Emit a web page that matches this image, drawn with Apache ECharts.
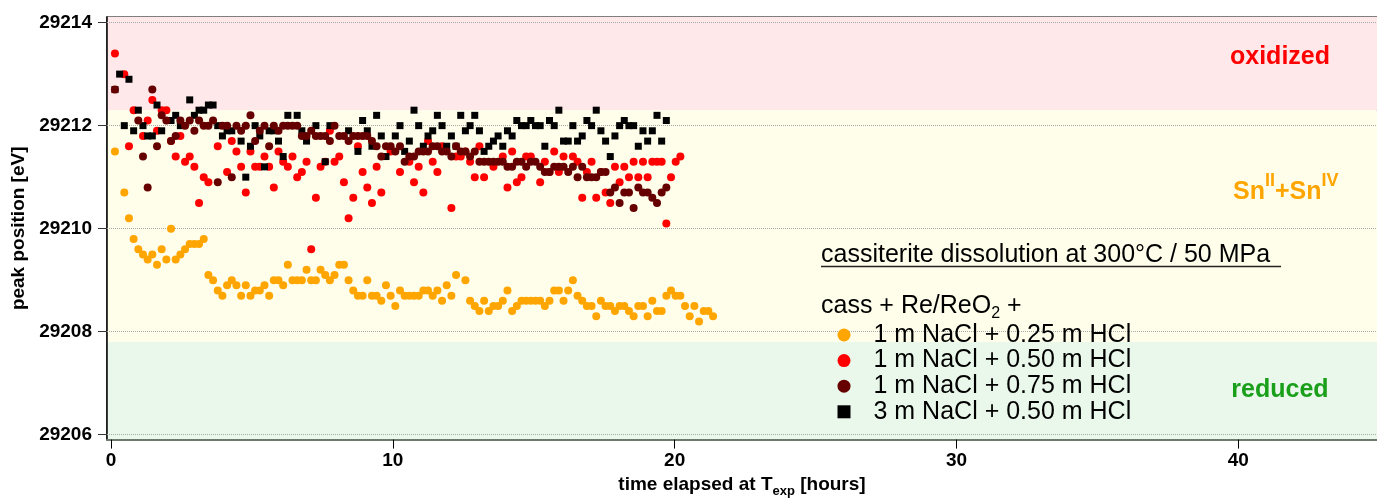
<!DOCTYPE html>
<html>
<head>
<meta charset="utf-8">
<title>cassiterite dissolution</title>
<script src="https://cdn.jsdelivr.net/npm/echarts@6/dist/echarts.min.js"></script>
</head>
<body style="margin:0">
<div id="main" style="width:1377px;height:503px;"></div>
<script type="text/javascript">
// sampling: one spectrum about every 10 min, first one at 0.14 h
var tStart = 0.14;
var tStep = 0.1658;

var xTicks = [0, 10, 20, 30, 40];
var yTicks = [29206, 29208, 29210, 29212, 29214];

// redox regions (eV)
var oxidizedFrom = 29212.3;
var reducedTo = 29207.8;

var names = ['1 m NaCl + 0.25 m HCl', '1 m NaCl + 0.50 m HCl', '1 m NaCl + 0.75 m HCl', '3 m NaCl + 0.50 m HCl'];

// peak positions, null = no point at that step
var hcl025 = [29211.5, null, 29210.7, 29210.2, 29209.8, 29209.6, 29209.5, 29209.4, 29209.5, 29209.3,
  29209.6, 29209.4, 29210.0, 29209.4, 29209.5, 29209.6, 29209.7, 29209.7, 29209.7, 29209.8,
  29209.1, 29209.0, 29208.8, 29208.7, 29208.9, 29209.0, 29208.9, 29208.7, 29208.9, 29208.7,
  29208.8, 29208.8, 29208.9, 29208.7, 29209.0, 29209.0, 29208.9, 29209.3, 29209.0, 29209.0,
  29209.0, 29209.2, 29209.0, 29209.0, 29209.2, 29209.1, 29209.0, 29209.1, 29209.3, 29209.3,
  29209.0, 29208.8, 29208.7, 29208.7, 29209.0, 29208.7, 29208.7, 29208.6, 29208.9, 29208.7,
  29208.5, 29208.8, 29208.7, 29208.7, 29208.7, 29208.7, 29208.8, 29208.8, 29208.7, 29208.8,
  29208.6, 29208.9, 29208.7, 29209.1, null, 29209.0, 29208.6, 29208.5, 29208.4, 29208.6,
  29208.4, 29208.5, 29208.5, 29208.6, 29208.8, 29208.4, 29208.5, 29208.6, 29208.6, 29208.6,
  29208.6, 29208.6, 29208.5, 29208.6, 29208.8, 29208.8, 29208.6, 29208.8, 29209.0, 29208.7,
  29208.6, 29208.5, 29208.5, 29208.3, 29208.6, 29208.5, 29208.5, 29208.4, 29208.5, 29208.5,
  29208.4, 29208.3, 29208.5, 29208.5, 29208.3, 29208.6, 29208.4, 29208.4, 29208.7, 29208.8,
  29208.7, 29208.7, 29208.5, 29208.3, 29208.5, 29208.2, 29208.4, 29208.4, 29208.3];

var hcl050 = [29213.4, null, 29213.0, 29211.6, 29212.3, null, 29211.8, 29212.1, 29212.5, 29211.9,
  29212.3, 29212.3, 29211.7, 29211.4, 29211.8, 29211.3, 29211.4, 29211.2, 29210.5, 29211.0,
  29210.9, null, 29211.6, null, 29211.1, 29211.7, 29211.5, 29211.2, 29210.7, 29211.5,
  29211.2, 29211.2, 29211.4, 29211.2, 29210.8, 29211.5, 29211.3, 29211.2, 29211.4, 29211.0,
  29211.1, 29211.3, 29209.6, 29210.6, 29211.2, 29211.3, 29211.9, 29211.3, 29211.4, 29210.9,
  29210.2, 29210.6, 29211.6, 29211.1, 29210.8, 29210.5, 29211.2, 29210.7, null, 29211.5,
  null, 29211.1, null, 29211.3, 29210.9, 29211.2, 29210.7, 29211.7, 29211.3, 29211.1,
  29211.6, null, 29210.4, 29211.4, 29211.4, 29211.5, 29211.3, 29211.0, 29211.6, 29211.0,
  null, 29211.2, null, 29211.4, 29210.8, 29211.5, 29210.9, 29211.0, 29211.4, 29211.4,
  null, 29210.9, 29211.3, 29211.1, 29211.5, 29211.1, 29211.4, null, 29211.4, 29211.3,
  29210.6, 29211.1, 29211.3, 29210.6, 29211.1, 29210.7, 29210.5, 29211.2, 29210.9, 29211.2,
  29211.0, 29211.3, 29211.0, 29211.3, 29211.0, 29211.3, 29211.3, 29211.3, 29210.1, 29211.0,
  29211.3, 29211.4];

var hcl075 = [29212.7, null, null, null, null, 29212.1, 29211.4, 29210.8, 29212.7, 29211.6,
  29212.2, 29212.1, 29211.7, 29211.8, 29212.1, 29212.0, 29212.1, 29211.9, 29212.1, 29212.0,
  29212.0, 29212.1, 29210.9, 29212.0, 29212.0, 29211.0, 29212.0, 29211.9, 29212.0, 29212.2,
  29211.7, 29211.9, 29212.0, 29211.6, 29212.0, 29211.9, 29212.0, 29212.0, 29212.0, 29212.0,
  29211.8, 29211.8, 29211.9, 29211.8, 29211.8, 29211.8, 29211.7, 29212.0, 29211.8, 29211.8,
  29211.7, 29211.8, 29211.8, 29211.8, 29211.8, 29211.7, 29211.6, 29211.4, 29211.6, 29211.6,
  29211.5, 29211.6, 29211.3, 29211.4, 29211.4, 29211.5, 29211.5, 29211.5, 29211.6, 29211.6,
  29211.5, 29211.5, 29211.4, 29211.6, 29211.5, 29211.5, 29211.4, 29211.5, 29211.3, 29211.3,
  29211.3, 29211.3, 29211.3, 29211.3, 29211.2, 29211.2, 29211.3, 29211.3, 29211.2, 29211.3,
  29211.3, 29211.2, 29211.1, 29211.1, 29211.2, 29211.2, 29211.2, 29211.1, 29211.2, 29211.0,
  29211.2, 29211.0, 29211.0, 29211.0, 29211.1, 29211.1, 29210.7, 29210.8, 29210.5, 29210.7,
  29210.7, 29210.4, 29210.8, 29210.7, 29210.7, 29210.6, 29210.5, 29210.7, 29210.8];

var nacl3 = [29212.7, 29213.0, 29212.0, 29212.9, 29211.9, 29212.3, 29212.0, 29211.8, 29211.8, 29212.4,
  29211.9, null, 29212.1, 29212.2, 29212.0, null, 29212.5, 29212.2, 29212.3, 29212.3,
  29212.4, 29212.4, 29212.0, 29211.8, 29211.9, 29211.9, null, 29211.7, 29211.0, 29211.6,
  29212.0, 29211.8, 29211.2, 29211.9, 29211.9, 29211.7, 29211.4, 29212.2, null, 29212.2,
  29211.9, 29211.7, null, 29212.0, null, 29211.3, 29212.0, null, null, null,
  29211.9, null, 29211.5, 29212.1, 29211.9, 29211.6, 29212.2, 29211.8, 29211.4, null,
  29211.8, 29212.0, 29211.5, 29211.7, 29212.3, 29212.0, 29211.6, 29211.8, 29211.9, 29212.2,
  29212.0, 29211.6, 29211.8, 29211.6, 29212.2, 29211.9, 29212.0, 29212.2, 29211.9, 29211.5,
  29211.6, 29211.7, 29211.8, 29211.6, 29211.9, 29211.8, 29212.1, 29212.0, 29212.0, 29212.1,
  29212.0, 29212.0, 29211.6, 29212.1, 29212.0, 29212.3, 29211.7, 29211.7, 29212.0, 29211.7,
  29211.8, 29212.1, 29212.0, 29212.3, 29211.9, 29211.7, 29211.4, 29211.8, 29212.0, 29212.1,
  29212.0, 29212.0, 29211.6, 29211.9, 29211.7, 29211.9, 29212.2, 29211.7, 29212.1];

var FONT = '"Liberation Sans", Arial, Helvetica, sans-serif';
var xMin = -0.142, xMax = 44.92;
var yMin = 29205.905, yMax = 29214.109;

function toPoints(vals) {
  var out = [];
  for (var i = 0; i < vals.length; i++) {
    if (vals[i] !== null) out.push([tStart + i * tStep, vals[i]]);
  }
  return out;
}

var myChart = echarts.init(document.getElementById('main'));

var option = {
  animation: false,
  grid: {left: 107, right: -2, top: 17, bottom: 56, show: true, borderColor: '#555', borderWidth: 1.5},
  legend: {
    orient: 'vertical', left: 837.5, top: 322.2, padding: 0, itemGap: 0,
    itemWidth: 13, itemHeight: 13, selectedMode: false,
    data: [
      {name: names[0], icon: 'circle'},
      {name: names[1], icon: 'circle'},
      {name: names[2], icon: 'circle'},
      {name: names[3], icon: 'rect'}
    ],
    textStyle: {fontFamily: FONT, fontSize: 25, color: '#000', lineHeight: 25.6, padding: [0, 0, 0, 18]}
  },
  xAxis: {
    type: 'value', min: xMin, max: xMax,
    name: '{a|time elapsed at T}{b|exp}{a| [hours]}',
    nameLocation: 'middle', nameGap: 32,
    nameTextStyle: {
      rich: {
        a: {fontFamily: FONT, fontSize: 19, fontWeight: 'bold', color: '#000', lineHeight: 26},
        b: {fontFamily: FONT, fontSize: 13, fontWeight: 'bold', color: '#000', lineHeight: 13, verticalAlign: 'bottom'}
      }
    },
    axisLine: {onZero: false, lineStyle: {color: '#6f7a6f', width: 2}},
    axisTick: {inside: false, length: 9, customValues: xTicks, lineStyle: {color: '#000', width: 1}},
    axisLabel: {customValues: xTicks, margin: 12, fontFamily: FONT, fontSize: 19, fontWeight: 'bold', color: '#000'},
    splitLine: {show: false}
  },
  yAxis: {
    type: 'value', min: yMin, max: yMax,
    name: 'peak position [eV]', nameLocation: 'middle', nameGap: 78,
    nameTextStyle: {fontFamily: FONT, fontSize: 19, fontWeight: 'bold', color: '#000'},
    axisLine: {show: true, onZero: false, lineStyle: {color: '#000', width: 1.5}},
    axisTick: {inside: false, length: 9, customValues: yTicks, lineStyle: {color: '#333', width: 1}},
    axisLabel: {
      customValues: yTicks, margin: 15, fontFamily: FONT, fontSize: 19, fontWeight: 'bold', color: '#000',
      formatter: function (v) { return String(Math.round(v)); }
    },
    splitLine: {show: false}
  },
  series: [
    {
      type: 'scatter', data: [], z: 0, silent: true,
      markArea: {
        silent: true, z: 0,
        data: [
          [{yAxis: oxidizedFrom, itemStyle: {color: '#ffe8ea'}}, {yAxis: yMax}],
          [{yAxis: reducedTo, itemStyle: {color: '#fffeeb'}}, {yAxis: oxidizedFrom}],
          [{yAxis: yMin, itemStyle: {color: '#e9f8ea'}}, {yAxis: reducedTo}]
        ]
      },
      markLine: {
        silent: true, z: 1, symbol: 'none', label: {show: false},
        lineStyle: {color: '#a8a8a8', type: 'dotted', width: 1},
        data: yTicks.map(function (v) { return {yAxis: v}; })
      }
    },
    {name: names[0], type: 'scatter', z: 3, symbol: 'circle', symbolSize: 8, itemStyle: {color: '#ffa500', opacity: 1}, data: toPoints(hcl025)},
    {name: names[1], type: 'scatter', z: 3, symbol: 'circle', symbolSize: 8, itemStyle: {color: '#ff0000', opacity: 1}, data: toPoints(hcl050)},
    {name: names[3], type: 'scatter', z: 3, symbol: 'rect', symbolSize: 7, itemStyle: {color: '#000000', opacity: 1}, data: toPoints(nacl3)},
    {name: names[2], type: 'scatter', z: 3, symbol: 'circle', symbolSize: 8, itemStyle: {color: '#660000', opacity: 1}, data: toPoints(hcl075)}
  ],
  graphic: [
    {type: 'text', x: 821, y: 255, z: 10, silent: true, style: {
      text: 'cassiterite dissolution at 300°C / 50 MPa', fill: '#000',
      fontFamily: FONT, fontSize: 25, align: 'left', verticalAlign: 'middle', textAlign: 'left', textVerticalAlign: 'middle'}},
    {type: 'line', z: 10, silent: true, shape: {x1: 821, y1: 266.5, x2: 1281, y2: 266.5}, style: {stroke: '#222', lineWidth: 1.5}},
    {type: 'text', x: 821, y: 306, z: 10, silent: true, style: {
      text: '{n|cass + Re/ReO}{s|2}{n| +}', align: 'left', verticalAlign: 'middle', textAlign: 'left', textVerticalAlign: 'middle',
      rich: {
        n: {fontFamily: FONT, fontSize: 25, fill: '#000', color: '#000', lineHeight: 32},
        s: {fontFamily: FONT, fontSize: 16, fill: '#000', color: '#000', lineHeight: 16, verticalAlign: 'bottom'}
      }}},
    {type: 'text', x: 1280, y: 57, z: 10, silent: true, style: {
      text: 'oxidized', fill: '#ff0000', fontFamily: FONT, fontSize: 25, fontWeight: 'bold',
      align: 'center', verticalAlign: 'middle', textAlign: 'center', textVerticalAlign: 'middle'}},
    {type: 'text', x: 1233, y: 192, z: 10, silent: true, style: {
      text: '{n|Sn}{p|II}{n|+Sn}{p|IV}', align: 'left', verticalAlign: 'middle', textAlign: 'left', textVerticalAlign: 'middle',
      rich: {
        n: {fontFamily: FONT, fontSize: 25, fontWeight: 'bold', fill: '#ffa500', color: '#ffa500', lineHeight: 40},
        p: {fontFamily: FONT, fontSize: 18, fontWeight: 'bold', fill: '#ffa500', color: '#ffa500', lineHeight: 18, verticalAlign: 'top'}
      }}},
    {type: 'text', x: 1280, y: 390, z: 10, silent: true, style: {
      text: 'reduced', fill: '#1a9f1a', fontFamily: FONT, fontSize: 25, fontWeight: 'bold',
      align: 'center', verticalAlign: 'middle', textAlign: 'center', textVerticalAlign: 'middle'}}
  ]
};

myChart.setOption(option);
</script>
</body>
</html>
